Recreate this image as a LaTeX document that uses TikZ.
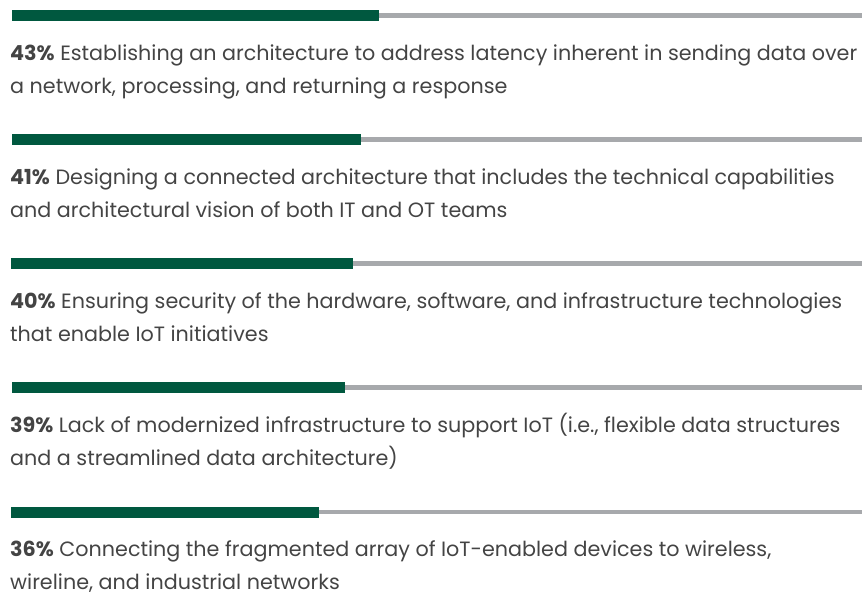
\documentclass[tikz,border=0pt]{standalone}
\usepackage{fontspec}
\setmainfont{Poppins}
\newlength{\du}
\setlength{\du}{10pt}
\definecolor{bargreen}{rgb}{0.000000, 0.345098, 0.247059}
\definecolor{bargrey}{rgb}{0.654902, 0.662745, 0.674510}
\definecolor{textgrey}{rgb}{0.266667, 0.266667, 0.266667}
\tikzset{
  track/.style={draw=bargrey, line width=0.450000\du},
  level/.style={fill=bargreen, draw=none},
  answer/.style={anchor=base west, inner sep=0pt, align=left, text=textgrey,
    font=\fontsize{20.7}{33}\selectfont}
}

\begin{document}
\begin{tikzpicture}
\pgftransformxscale{1.000000}
\pgftransformyscale{-1.000000}
\useasboundingbox (0\du,0\du) rectangle (86.200000\du,59.500000\du);
% 43%
\draw[track] (1.200000\du,1.550000\du)--(86.200000\du,1.550000\du);
\fill[level] (1.200000\du,1.000000\du) rectangle (37.900000\du,2.100000\du);
\node[answer] (a43) at (1.000000\du,9.300000\du){\textbf{43\%} Establishing an architecture to address latency inherent in sending data over\\a network, processing, and returning a response};
% 41%
\draw[track] (1.200000\du,13.950000\du)--(86.200000\du,13.950000\du);
\fill[level] (1.200000\du,13.400000\du) rectangle (36.100000\du,14.500000\du);
\node[answer] (a41) at (1.000000\du,21.700000\du){\textbf{41\%} Designing a connected architecture that includes the technical capabilities\\and architectural vision of both IT and OT teams};
% 40%
\draw[track] (1.100000\du,26.350000\du)--(86.200000\du,26.350000\du);
\fill[level] (1.100000\du,25.800000\du) rectangle (35.300000\du,26.900000\du);
\node[answer] (a40) at (1.000000\du,34.100000\du){\textbf{40\%} Ensuring security of the hardware, software, and infrastructure technologies\\that enable IoT initiatives};
% 39%
\draw[track] (1.200000\du,38.750000\du)--(86.200000\du,38.750000\du);
\fill[level] (1.200000\du,38.200000\du) rectangle (34.500000\du,39.300000\du);
\node[answer] (a39) at (1.000000\du,46.500000\du){\textbf{39\%} Lack of modernized infrastructure to support IoT (i.e., flexible data structures\\and a streamlined data architecture)};
% 36%
\draw[track] (1.100000\du,51.200000\du)--(86.200000\du,51.200000\du);
\fill[level] (1.100000\du,50.650000\du) rectangle (31.900000\du,51.750000\du);
\node[answer] (a36) at (1.000000\du,58.900000\du){\textbf{36\%} Connecting the fragmented array of IoT-enabled devices to wireless,\\wireline, and industrial networks};
\end{tikzpicture}
\end{document}
